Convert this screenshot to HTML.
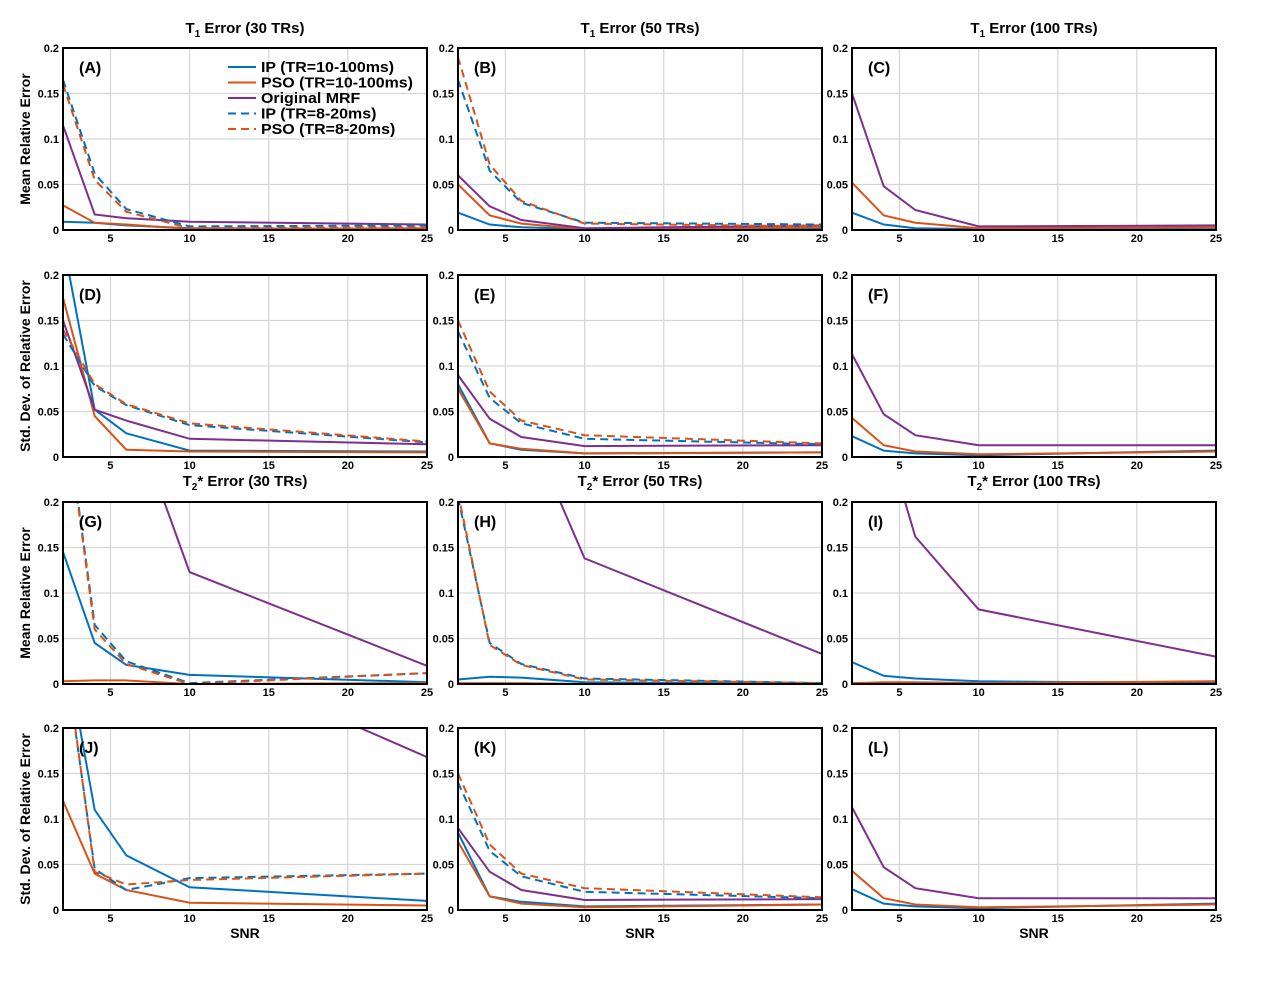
<!DOCTYPE html>
<html><head><meta charset="utf-8"><style>
body{margin:0;background:#fff;}
svg text{font-family:"Liberation Sans",Arial,sans-serif;font-weight:bold;}
</style></head><body>
<svg id="chart" width="1280" height="980" xmlns="http://www.w3.org/2000/svg"></svg>
<script>
const snr=[2,4,6,10,25];
const xTicks=[5,10,15,20,25];
const yTicks=[0,0.05,0.1,0.15,0.2];
const yTickLabels=["0","0.05","0.1","0.15","0.2"];
const seriesNames=["IP (TR=10-100ms)","PSO (TR=10-100ms)","Original MRF","IP (TR=8-20ms)","PSO (TR=8-20ms)"];
const colors=["#0072BD","#D95319","#7E2F8E","#0072BD","#D95319"];
const dashed=[false,false,false,true,true];
const panelLetters=["A","B","C","D","E","F","G","H","I","J","K","L"];
// values per panel: [IP, PSO, Orig, IPd, PSOd]
const pA=[[0.009,0.008,0.005,0.002,0.001],[0.027,0.008,0.006,0.001,0.002],[0.115,0.017,0.013,0.009,0.006],[0.165,0.062,0.023,0.004,0.005],[0.16,0.055,0.02,0.002,0.003]];
const pB=[[0.019,0.006,0.003,0.001,0.002],[0.05,0.016,0.007,0.001,0.003],[0.06,0.026,0.011,0.002,0.005],[0.165,0.065,0.03,0.008,0.006],[0.19,0.072,0.032,0.007,0.004]];
const pC=[[0.019,0.006,0.002,0.001,0.001],[0.052,0.016,0.008,0.002,0.003],[0.15,0.048,0.022,0.004,0.005],null,null];
const pD=[[0.237,0.052,0.026,0.007,0.006],[0.175,0.045,0.008,0.006,0.005],[0.15,0.052,0.04,0.02,0.014],[0.135,0.078,0.057,0.035,0.016],[0.14,0.08,0.058,0.037,0.017]];
const pE=[[0.08,0.015,0.008,0.004,0.005],[0.075,0.015,0.009,0.004,0.005],[0.09,0.042,0.022,0.012,0.013],[0.138,0.065,0.037,0.02,0.014],[0.15,0.072,0.04,0.024,0.015]];
const pF=[[0.023,0.007,0.004,0.002,0.007],[0.043,0.013,0.006,0.003,0.006],[0.113,0.047,0.024,0.013,0.013],null,null];
const pG=[[0.145,0.045,0.021,0.01,0.002],[0.003,0.004,0.004,0.0,0.001],[0.6,0.45,0.3155,0.123,0.02],[0.322,0.065,0.025,0.001,0.012],[0.32,0.06,0.022,0.0,0.012]];
const pH=[[0.005,0.008,0.007,0.002,0.0],[0.001,0.001,0.001,0.0,0.0],[0.6,0.45,0.299,0.138,0.033],[0.205,0.045,0.022,0.006,0.001],[0.21,0.043,0.021,0.005,0.001]];
const pI=[[0.024,0.009,0.006,0.003,0.001],[0.001,0.002,0.002,0.001,0.003],[0.5,0.279,0.162,0.082,0.03],null,null];
const pJ=[[0.303,0.11,0.06,0.025,0.01],[0.12,0.04,0.022,0.008,0.005],[0.6,0.45,0.35,0.282,0.168],[0.295,0.045,0.022,0.035,0.04],[0.3,0.042,0.028,0.033,0.04]];
const pK=[[0.085,0.015,0.009,0.004,0.006],[0.075,0.015,0.007,0.003,0.006],[0.09,0.042,0.022,0.011,0.012],[0.14,0.065,0.037,0.02,0.013],[0.15,0.072,0.04,0.024,0.014]];
const pL=[[0.023,0.007,0.004,0.002,0.007],[0.043,0.013,0.006,0.003,0.006],[0.113,0.047,0.024,0.013,0.013],null,null];
const panels=[pA,pB,pC,pD,pE,pF,pG,pH,pI,pJ,pK,pL];

const NS="http://www.w3.org/2000/svg";
const svg=document.getElementById('chart');
const colX=[63,458,852], colW=364;
const rowY=[48,275,502,728], rowH=182;
function mk(tag,attrs,parent){const e=document.createElementNS(NS,tag);for(const k in attrs)e.setAttribute(k,attrs[k]);(parent||svg).appendChild(e);return e;}
const defs=mk('defs',{});
panels.forEach((p,i)=>{
  const c=i%3,r=Math.floor(i/3);
  const x0=colX[c],y0=rowY[r];
  const sx=v=>x0+(v-2)/23*colW;
  const sy=v=>y0+rowH-v/0.2*rowH;
  const g=mk('g',{});
  
  
  const cp=mk('clipPath',{id:'cp'+i},defs);
  mk('rect',{x:x0,y:y0,width:colW,height:rowH},cp);
  xTicks.forEach(t=>{
    const l=mk('line',{x1:sx(t),x2:sx(t),y1:y0,y2:y0+rowH,stroke:'#d6d6d6','stroke-width':1.3},g);
    
    const tx=mk('text',{x:sx(t),y:y0+rowH+12,'font-size':11,'text-anchor':'middle'},g);tx.textContent=t;
    
  });
  yTicks.forEach((t,k)=>{
    const l=mk('line',{x1:x0,x2:x0+colW,y1:sy(t),y2:sy(t),stroke:'#d6d6d6','stroke-width':1.3},g);
    
    const tx=mk('text',{x:x0-4,y:sy(t)+4,'font-size':11,'text-anchor':'end'},g);tx.textContent=yTickLabels[k];
    
  });
  p.forEach((vals,s)=>{
    if(!vals)return;
    const pts=snr.map((v,k)=>sx(v).toFixed(1)+','+sy(vals[k]).toFixed(1)).join(' ');
    const pl=mk('polyline',{points:pts,fill:'none',stroke:colors[s],'stroke-width':2,'clip-path':'url(#cp'+i+')'},g);
    if(dashed[s])pl.setAttribute('stroke-dasharray','8,5');
    
  });
  const box=mk('rect',{x:x0,y:y0,width:colW,height:rowH,fill:'none',stroke:'#000','stroke-width':2},g);
  
  const lt=mk('text',{x:x0+16,y:y0+25,'font-size':16},g);lt.textContent='('+panelLetters[i]+')';
  
});
// legend in panel A
seriesNames.forEach((n,s)=>{
  const y=67+s*15.5;
  const l=mk('line',{x1:228,x2:256,y1:y,y2:y,stroke:colors[s],'stroke-width':2});
  if(dashed[s])l.setAttribute('stroke-dasharray','8,5');
  
  const t=mk('text',{x:261,y:y+5,'font-size':14.5},undefined);t.textContent=n;
  
  const w=t.getComputedTextLength();
  t.setAttribute('textLength',(w*1.1).toFixed(1));
  t.setAttribute('lengthAdjust','spacingAndGlyphs');
});
// titles
const trs=["30","50","100"];
[0,1,2].forEach(c=>{
  [[0,28,'1',' Error ('],[2,481,'2','* Error (']].forEach(([r,y,sub,rest])=>{
    const t=mk('text',{x:colX[c]+colW/2,y:y+5,'font-size':15,'text-anchor':'middle'});
    
    const a=mk('tspan',{},t);a.textContent='T';
    const b=mk('tspan',{'font-size':10,dy:4},t);b.textContent=sub;
    const d=mk('tspan',{dy:-4},t);d.textContent=rest+trs[c]+' TRs)';
  });
  const s=mk('text',{x:colX[c]+colW/2,y:938,'font-size':14,'text-anchor':'middle'});s.textContent='SNR';
  
});
['Mean Relative Error','Std. Dev. of Relative Error','Mean Relative Error','Std. Dev. of Relative Error'].forEach((n,r)=>{
  const cy=rowY[r]+rowH/2;
  const t=mk('text',{x:30,y:cy,'font-size':14,'text-anchor':'middle',transform:'rotate(-90 30 '+cy+')'});t.textContent=n;
  
});
</script>
</body></html>
